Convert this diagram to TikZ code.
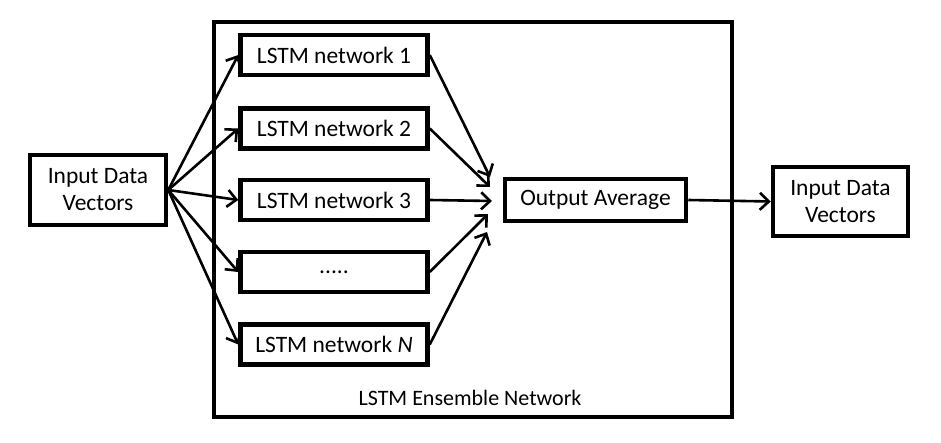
\documentclass[tikz,border=0pt]{standalone}
\usepackage{fontspec}
\setmainfont{Carlito}
\usetikzlibrary{arrows.meta}
\begin{document}
\begin{tikzpicture}[x=1pt,y=-1pt,
  box/.style={draw,line width=4.5pt,rectangle,inner sep=0pt,align=center,font=\fontsize{23.5}{27}\selectfont},
  conn/.style={line width=2.6pt,-{Straight Barb[length=9pt,width=17pt,line width=2.6pt]}},
]
\useasboundingbox (0,0) rectangle (941,443);
\draw[line width=3.8pt] (214,22) rectangle (732,417);
\node[box,minimum width=136pt,minimum height=70pt] (in) at (98,190) {Input Data\\Vectors};
\node[box,minimum width=187pt,minimum height=40pt] (l1) at (334,55) {LSTM network 1};
\node[box,minimum width=187pt,minimum height=40pt] (l2) at (334,128.5) {LSTM network 2};
\node[box,minimum width=187pt,minimum height=40pt] (l3) at (334,200) {LSTM network 3};
\node[box,minimum width=187pt,minimum height=40pt] (l4) at (334,272) {.....};
\node[box,minimum width=187pt,minimum height=40pt] (l5) at (334,344.5) {LSTM network \textit{N}};
\node[box,minimum width=181pt,minimum height=42pt] (avg) at (595.5,200) {Output Average};
\node[box,minimum width=135pt,minimum height=69pt] (out) at (840.5,201.5) {Input Data\\Vectors};
\node[font=\fontsize{22}{26}\selectfont] (cap) at (470,398) {LSTM Ensemble Network};
\coordinate (t1) at (490,177);
\coordinate (t2) at (490,187);
\coordinate (t3) at (492,201);
\coordinate (t4) at (488,214);
\coordinate (t5) at (487,232);
\foreach \i in {1,...,5} {
  \draw[conn] (in.east) -- (l\i.west);
  \draw[conn] (l\i.east) -- (t\i);
}
\draw[conn] (avg.east) -- (out.west);
\end{tikzpicture}
\end{document}
